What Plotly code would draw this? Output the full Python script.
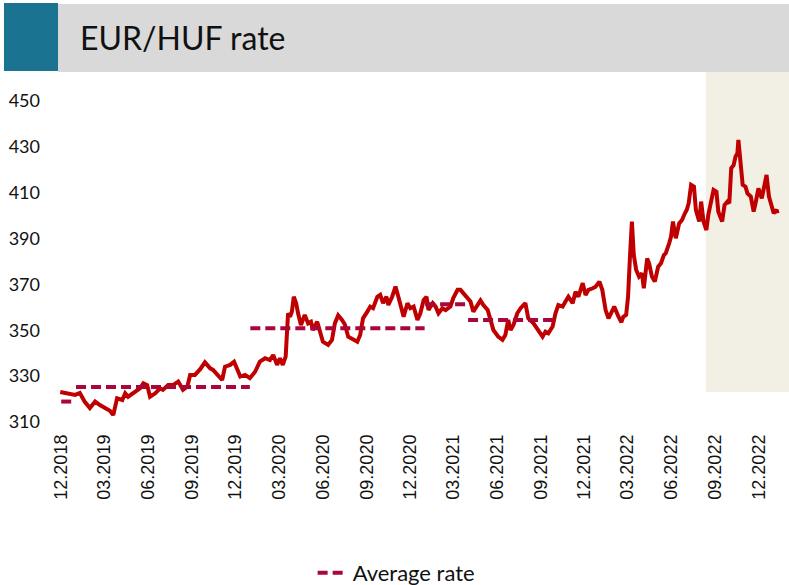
import plotly.graph_objects as go

# ---- data ----
dates = [
    "2018-11-29", "2018-12-09", "2018-12-19", "2018-12-30", "2019-01-09", "2019-01-19", "2019-01-30",
    "2019-02-10", "2019-02-20", "2019-03-03", "2019-03-13", "2019-03-20", "2019-03-28", "2019-04-08",
    "2019-04-14", "2019-04-20", "2019-05-05", "2019-05-15", "2019-05-22", "2019-05-30", "2019-06-05",
    "2019-06-16", "2019-06-26", "2019-07-02", "2019-07-13", "2019-07-23", "2019-08-03", "2019-08-13",
    "2019-08-22", "2019-08-28", "2019-09-07", "2019-09-18", "2019-09-28", "2019-10-09", "2019-10-15",
    "2019-10-26", "2019-11-03", "2019-11-09", "2019-11-20", "2019-11-28", "2019-12-04", "2019-12-11",
    "2019-12-21", "2019-12-31", "2020-01-11", "2020-01-21", "2020-02-01", "2020-02-11", "2020-02-18",
    "2020-02-26", "2020-03-03", "2020-03-09", "2020-03-15", "2020-03-20", "2020-03-24", "2020-03-28",
    "2020-04-01", "2020-04-06", "2020-04-10", "2020-04-16", "2020-04-24", "2020-05-01", "2020-05-07",
    "2020-05-11", "2020-05-20", "2020-05-26", "2020-06-01", "2020-06-12", "2020-06-20", "2020-06-26",
    "2020-07-03", "2020-07-11", "2020-07-17", "2020-07-24", "2020-08-03", "2020-08-12", "2020-08-18",
    "2020-08-24", "2020-09-02", "2020-09-08", "2020-09-14", "2020-09-23", "2020-09-29", "2020-10-05",
    "2020-10-12", "2020-10-16", "2020-10-24", "2020-10-31", "2020-11-06", "2020-11-10", "2020-11-17",
    "2020-11-25", "2020-12-01", "2020-12-08", "2020-12-16", "2020-12-22", "2020-12-29", "2021-01-04",
    "2021-01-08", "2021-01-17", "2021-01-23", "2021-01-29", "2021-02-06", "2021-02-13", "2021-02-23",
    "2021-03-01", "2021-03-10", "2021-03-16", "2021-03-22", "2021-03-31", "2021-04-06", "2021-04-12",
    "2021-04-21", "2021-04-27", "2021-05-03", "2021-05-12", "2021-05-18", "2021-05-24", "2021-06-03",
    "2021-06-12", "2021-06-18", "2021-06-24", "2021-06-29", "2021-07-05", "2021-07-13", "2021-07-20",
    "2021-07-30", "2021-08-05", "2021-08-16", "2021-08-26", "2021-09-04", "2021-09-10", "2021-09-16",
    "2021-09-25", "2021-10-01", "2021-10-07", "2021-10-16", "2021-10-22", "2021-10-28", "2021-11-06",
    "2021-11-12", "2021-11-18", "2021-11-27", "2021-12-03", "2021-12-09", "2021-12-18", "2021-12-24",
    "2022-01-01", "2022-01-07", "2022-01-14", "2022-01-20", "2022-01-28", "2022-02-01", "2022-02-10",
    "2022-02-16", "2022-02-20", "2022-02-26", "2022-03-02", "2022-03-04", "2022-03-06", "2022-03-10",
    "2022-03-14", "2022-03-19", "2022-03-25", "2022-03-31", "2022-04-04", "2022-04-11", "2022-04-15",
    "2022-04-21", "2022-04-27", "2022-05-04", "2022-05-10", "2022-05-16", "2022-05-20", "2022-05-27",
    "2022-05-31", "2022-06-04", "2022-06-10", "2022-06-17", "2022-06-23", "2022-06-29", "2022-07-03",
    "2022-07-07", "2022-07-12", "2022-07-18", "2022-07-22", "2022-07-29", "2022-08-02", "2022-08-07",
    "2022-08-13", "2022-08-17", "2022-08-23", "2022-08-28", "2022-09-03", "2022-09-07", "2022-09-15",
    "2022-09-20", "2022-09-26", "2022-09-30", "2022-10-04", "2022-10-09", "2022-10-13", "2022-10-17",
    "2022-10-19", "2022-10-23", "2022-10-28", "2022-11-03", "2022-11-07", "2022-11-14", "2022-11-20",
    "2022-11-24", "2022-11-30", "2022-12-07", "2022-12-11", "2022-12-17", "2022-12-22", "2022-12-28",
    "2023-01-01", "2023-01-07", "2023-01-09",
]
rates = [
    323.1, 322.6, 322.4, 321.8, 322.6, 318.9, 316.1,
    318.9, 317.4, 316.1, 314.9, 313.0, 320.3, 319.6,
    322.5, 321.0, 323.2, 324.7, 326.9, 326.1, 321.0,
    322.5, 324.7, 324.0, 326.1, 326.1, 327.6, 324.0,
    325.4, 330.5, 330.5, 333.0, 336.0, 333.4, 332.7,
    329.8, 328.3, 334.1, 334.9, 336.3, 333.4, 329.8,
    330.5, 329.1, 331.9, 336.3, 337.8, 337.0, 339.2,
    334.9, 337.8, 334.9, 338.5, 357.4, 355.9, 358.1,
    364.6, 361.8, 357.4, 352.3, 356.7, 353.0, 353.7,
    350.1, 353.7, 349.4, 345.0, 343.6, 345.8, 353.0,
    356.5, 354.5, 352.5, 347.2, 345.8, 345.0, 347.9,
    355.2, 358.1, 360.3, 359.6, 364.6, 365.4, 361.8,
    364.6, 361.0, 364.6, 369.0, 364.6, 361.8, 355.9,
    361.8, 359.6, 360.3, 354.5, 357.4, 363.2, 364.6,
    358.8, 361.8, 360.3, 357.4, 359.6, 358.8, 360.3,
    364.0, 367.6, 367.6, 366.1, 364.0, 362.5, 358.1,
    361.0, 363.0, 361.0, 358.8, 354.5, 350.1, 347.2,
    345.8, 347.9, 354.5, 350.1, 352.3, 357.4, 359.6,
    361.8, 355.2, 353.0, 350.1, 347.2, 349.4, 348.7,
    351.6, 357.4, 361.0, 360.3, 362.5, 364.6, 361.8,
    366.8, 364.6, 370.5, 365.4, 367.6, 368.3, 369.0,
    371.2, 367.6, 358.8, 355.2, 358.5, 360.3, 355.9,
    353.5, 355.9, 356.7, 364.6, 370.5, 382.1, 397.4,
    382.8, 376.3, 373.4, 374.8, 368.3, 381.3, 379.2,
    373.4, 371.2, 377.7, 379.2, 382.8, 383.6, 387.9,
    390.8, 397.4, 390.1, 396.6, 398.1, 401.0, 402.5,
    405.4, 413.4, 412.6, 402.5, 397.4, 406.1, 397.4,
    393.7, 400.3, 406.8, 411.2, 410.4, 401.7, 397.4,
    404.6, 406.1, 405.4, 420.6, 422.0, 425.7, 427.2,
    433.0, 422.0, 413.4, 412.6, 409.7, 408.3, 401.7,
    405.4, 411.9, 407.5, 412.6, 417.7, 408.3, 404.6,
    401.0, 402.5, 401.0,
]

avg_start = ["2018-12-01", "2019-01-01", "2020-01-01", "2021-01-01", "2021-04-01"]
avg_end = ["2018-12-31", "2019-12-31", "2020-12-31", "2021-03-31", "2021-09-30"]
avg_value = [318.9, 325.3, 350.9, 361.3, 354.5]

tick_dates = [
    "2018-12-01", "2019-03-01", "2019-06-01", "2019-09-01", "2019-12-01", "2020-03-01",
    "2020-06-01", "2020-09-01", "2020-12-01", "2021-03-01", "2021-06-01", "2021-09-01",
    "2021-12-01", "2022-03-01", "2022-06-01", "2022-09-01", "2022-12-01",
]
y_ticks = [310, 330, 350, 370, 390, 410, 430, 450]

shade_start, shade_end = "2022-08-12", "2023-03-01"
shade_low, shade_high = 323.1, 480

title_text = "EUR/HUF rate"
legend_label = "Average rate"

# ---- figure ----
fig = go.Figure()

fig.add_trace(go.Scatter(
    x=dates, y=rates, mode="lines",
    line=dict(color="#C00000", width=4),
    showlegend=False, hoverinfo="skip",
))

for i, (s, e, v) in enumerate(zip(avg_start, avg_end, avg_value)):
    fig.add_trace(go.Scatter(
        x=[s, e], y=[v, v], mode="lines",
        line=dict(color="#A8073A", width=4, dash="10px,5px"),
        name=legend_label, legendgroup="avg", showlegend=(i == 0),
        hoverinfo="skip",
    ))

fig.add_shape(type="rect", xref="x", yref="y",
              x0=shade_start, x1=shade_end, y0=shade_low, y1=shade_high,
              fillcolor="#F2EFE5", line=dict(width=0), layer="below")

# header band
fig.add_shape(type="rect", xref="paper", yref="paper",
              x0=0.0041, x1=1.0, y0=1.0, y1=1.190,
              fillcolor="#D9D9D9", line=dict(width=0))
fig.add_shape(type="rect", xref="paper", yref="paper",
              x0=-0.0695, x1=0.0041, y0=1.0028, y1=1.1927,
              fillcolor="#1A7391", line=dict(width=0))
fig.add_annotation(text=title_text, xref="paper", yref="paper",
                   x=0.0313, y=1.095, xanchor="left", yanchor="middle",
                   showarrow=False, font=dict(family="Lato", size=32, color="#111111"))

fig.update_layout(
    width=789, height=585,
    margin=dict(l=55, r=0, t=72, b=155, autoexpand=False),
    paper_bgcolor="white", plot_bgcolor="white",
    showlegend=True,
    legend=dict(orientation="h", x=0.351, y=-0.399, xanchor="left", yanchor="middle",
                font=dict(family="Lato", size=22, color="#111111")),
    xaxis=dict(type="date", range=["2018-11-18", "2023-02-02"],
               tickvals=tick_dates, tickformat="%m.%Y", tickangle=-90,
               showgrid=False, zeroline=False, showline=False, ticks="",
               tickfont=dict(family="Liberation Sans", size=18, color="#111111")),
    yaxis=dict(range=[306.5, 462.6], tickvals=y_ticks,
               showgrid=False, zeroline=False, showline=False, ticks="",
               ticklabelstandoff=14,
               tickfont=dict(family="Lato", size=18, color="#111111")),
)

fig.write_html("out.html", config={"displayModeBar": False},
               post_script="document.body.style.margin='0';")
